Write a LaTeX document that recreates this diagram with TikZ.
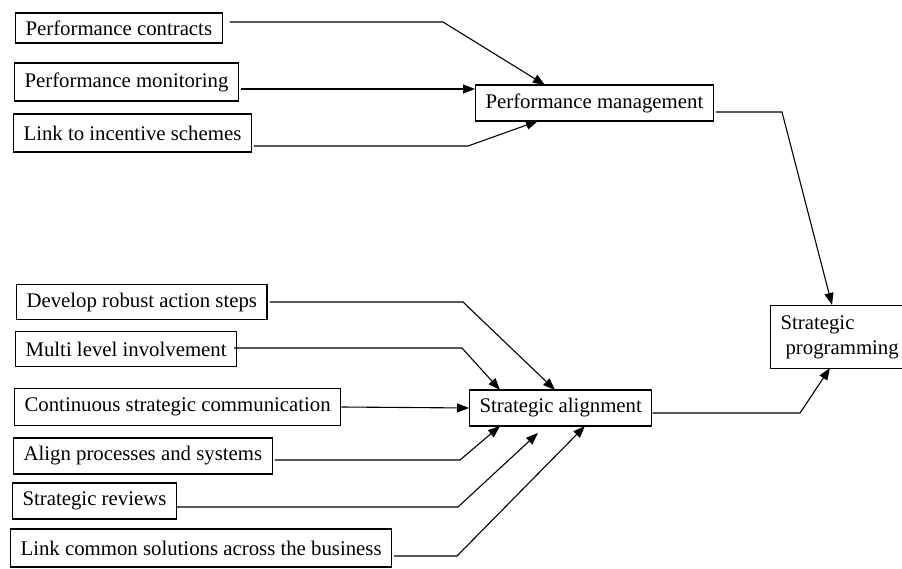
\documentclass[tikz,border=0pt]{standalone}
\usepackage{fontspec}
\setmainfont{Liberation Serif}
\usetikzlibrary{arrows.meta}
\begin{document}
\begin{tikzpicture}[x=1pt,y=-1pt,
  box/.style={draw,line width=1.1pt,anchor=west,inner xsep=10pt,inner ysep=0pt,
    minimum height=36pt,font=\fontsize{20.8}{25}\selectfont},
  conn/.style={line width=1.1pt,shorten <=2pt,-{Triangle[length=12pt,width=9pt]}}]
\useasboundingbox (0,0) rectangle (902,569);
\clip (0,0) rectangle (902,569);

% inputs to performance management
\node[box,minimum height=30pt] (pc) at (15,28) {Performance contracts};
\node[box,minimum height=38pt] (pmon) at (14,82) {Performance monitoring};
\node[box,minimum height=38pt] (inc) at (13,133) {Link to incentive schemes};
\node[box] (pm) at (475,103) {Performance management};

% inputs to strategic alignment
\node[box,minimum height=35pt] (dev) at (16,302) {Develop robust action steps};
\node[box,minimum height=35pt] (mli) at (15,349) {Multi level involvement};
\node[box,minimum height=37pt] (csc) at (14,407) {Continuous strategic communication};
\node[box] (apr) at (13,456) {Align processes and systems};
\node[box] (rev) at (12,501) {Strategic reviews};
\node[box,minimum height=38pt] (lcs) at (10,548) {Link common solutions across the business};
\node[box] (sa) at (469,408) {Strategic alignment};

% outcome
\node[box,anchor=north west,align=left,minimum height=63pt,inner ysep=4pt] (sp) at (770,305)
  {Strategic\\\hspace*{5pt}programming};

% bend points and arrow ends
\coordinate (b1) at (443,22);  \coordinate (t1) at (545,85);
\coordinate (t2) at (475,89);
\coordinate (b3) at (468,146); \coordinate (t3) at (538,121);
\coordinate (b4) at (782,112); \coordinate (t4) at (832,305);

\coordinate (b5) at (463,302); \coordinate (t5) at (555,390);
\coordinate (b6) at (462,348); \coordinate (t6) at (500,390);
\coordinate (b8) at (460,460); \coordinate (t8) at (500,426);
\coordinate (b9) at (458,507); \coordinate (t9) at (538,433);
\coordinate (b10) at (457,556); \coordinate (t10) at (585,426);
\coordinate (b11) at (800,413); \coordinate (t11) at (830,368);

% connectors
\draw[conn,shorten <=7pt] ([yshift=6pt]pc.east) -- (b1) -- (t1);
\draw[conn] ([yshift=-7pt]pmon.east) -- (t2);
\draw[conn] ([yshift=-13pt]inc.east) -- (b3) -- (t3);
\draw[conn] ([yshift=-9pt]pm.east) -- (b4) -- (t4);

\draw[conn] (dev.east) -- (b5) -- (t5);
\draw[conn,shorten <=-3pt] ([yshift=1pt]mli.east) -- (b6) -- (t6);
\draw[conn,shorten <=0pt] (csc.east) -- (sa.west);
\draw[conn] ([yshift=-4pt]apr.east) -- (b8) -- (t8);
\draw[conn,shorten <=0pt] ([yshift=-6pt]rev.east) -- (b9) -- (t9);
\draw[conn] ([yshift=-8pt]lcs.east) -- (b10) -- (t10);
\draw[conn,shorten <=0pt] ([yshift=-5pt]sa.east) -- (b11) -- (t11);
\end{tikzpicture}
\end{document}
